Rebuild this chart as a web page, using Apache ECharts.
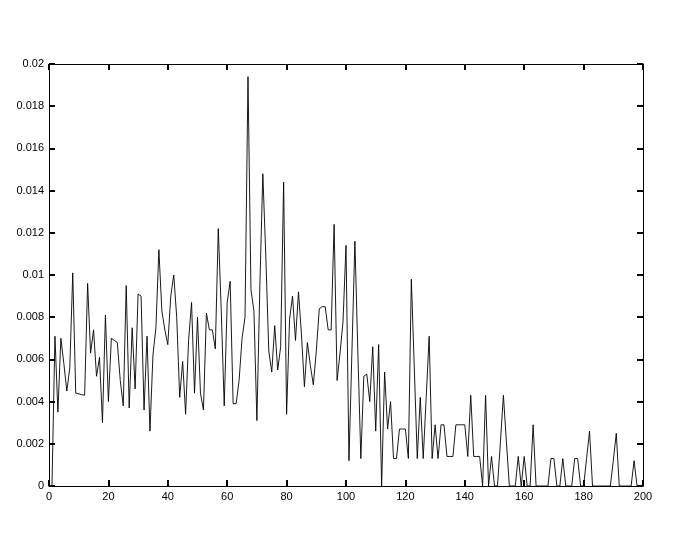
<!DOCTYPE html>
<html>
<head>
<meta charset="utf-8">
<script src="https://cdn.jsdelivr.net/npm/echarts@6/dist/echarts.min.js"></script>
<style>
  html, body { margin: 0; padding: 0; background: #fff; }
  #chart { width: 689px; height: 536px; }
</style>
</head>
<body>
<div id="chart"></div>
<script>
// sample values, index 1..200
var values = [
  0, 0.0071, 0.0035, 0.0070, 0.0058, 0.0045, 0.0056, 0.0101, 0.0044, 0.00437,
  0.00433, 0.0043, 0.0096, 0.0063, 0.0074, 0.0052, 0.0061, 0.0030, 0.0081, 0.0040,
  0.0070, 0.0069, 0.0068, 0.0050, 0.0038, 0.0095, 0.0037, 0.0075, 0.0046, 0.0091,
  0.0090, 0.0036, 0.0071, 0.0026, 0.0062, 0.0075, 0.0112, 0.0083, 0.0074, 0.0067,
  0.0090, 0.0100, 0.0080, 0.0042, 0.0059, 0.0034, 0.0069, 0.0087, 0.0044, 0.0080,
  0.0044, 0.0036, 0.0082, 0.0074, 0.0074, 0.0065, 0.0122, 0.0083, 0.0038, 0.0087,
  0.0097, 0.0039, 0.0039, 0.0050, 0.0070, 0.0080, 0.0194, 0.0093, 0.0083, 0.0031,
  0.0095, 0.0148, 0.0109, 0.0064, 0.0054, 0.0076, 0.0055, 0.0066, 0.0144, 0.0034,
  0.0079, 0.0090, 0.0069, 0.0092, 0.0072, 0.0047, 0.0068, 0.0057, 0.0048, 0.0064,
  0.0084, 0.0085, 0.0085, 0.0074, 0.0074, 0.0124, 0.0050, 0.0063, 0.0078, 0.0114,
  0.0012, 0.0064, 0.0116, 0.0063, 0.0013, 0.0052, 0.0053, 0.0040, 0.0066, 0.0026,
  0.0067, 0, 0.0054, 0.0027, 0.0040, 0.0013, 0.0013, 0.0027, 0.0027, 0.0027,
  0.0013, 0.0098, 0.0056, 0.0013, 0.0042, 0.0013, 0.0042, 0.0071, 0.0013, 0.0029,
  0.0013, 0.0029, 0.0029, 0.0014, 0.0014, 0.0014, 0.0029, 0.0029, 0.0029, 0.0029,
  0.0014, 0.0043, 0.0014, 0.0014, 0.0014, 0, 0.0043, 0, 0.0014, 0,
  0, 0.0021, 0.0043, 0.0021, 0, 0, 0, 0.0014, 0, 0.0014,
  0, 0, 0.0029, 0, 0, 0, 0, 0, 0.0013, 0.0013,
  0, 0, 0.0013, 0, 0, 0, 0.0013, 0.0013, 0, 0,
  0.0013, 0.0026, 0, 0, 0, 0, 0, 0, 0, 0.0012,
  0.0025, 0, 0, 0, 0, 0, 0.0012, 0, 0, 0
];
var xTicks = [0, 20, 40, 60, 80, 100, 120, 140, 160, 180, 200];
var yTicks = [0, 0.002, 0.004, 0.006, 0.008, 0.01, 0.012, 0.014, 0.016, 0.018, 0.02];

var points = values.map(function (v, i) { return [i + 1, v]; });

var labelStyle = { color: "#000", fontSize: 11, fontFamily: "Liberation Sans, Arial, sans-serif" };

// shared axis settings; the top / right copies only carry the mirrored ticks
function xAxis(pos, labels) {
  return {
    type: "value",
    min: xTicks[0],
    max: xTicks[xTicks.length - 1],
    interval: 20,
    position: pos,
    axisLine: { show: true, onZero: false, lineStyle: { color: "#000", width: 1 } },
    axisTick: { show: true, inside: true, length: 6, lineStyle: { color: "#000", width: 2 } },
    axisLabel: labels ? Object.assign({ margin: 5 }, labelStyle) : { show: false },
    splitLine: { show: false },
  };
}
function yAxis(pos, labels) {
  return {
    type: "value",
    min: yTicks[0],
    max: yTicks[yTicks.length - 1],
    interval: 0.002,
    position: pos,
    axisLine: { show: true, onZero: false, lineStyle: { color: "#000", width: 1 } },
    axisTick: { show: true, inside: true, length: 6, lineStyle: { color: "#000", width: 2 } },
    axisLabel: labels
      ? Object.assign({
          margin: 5,
          formatter: function (v) { return String(+v.toFixed(3)); },
        }, labelStyle)
      : { show: false },
    splitLine: { show: false },
  };
}

var chart = echarts.init(document.getElementById("chart"));
chart.setOption({
  animation: false,
  backgroundColor: "#fff",
  grid: { left: 49, right: 46, top: 64, bottom: 50 },
  xAxis: [xAxis("bottom", true), xAxis("top", false)],
  yAxis: [yAxis("left", true), yAxis("right", false)],
  series: [
    {
      type: "line",
      data: points,
      symbol: "none",
      lineStyle: { color: "#000", width: 0.9 },
    },
    {
      // invisible copy on the mirrored axes so their ticks get drawn
      type: "line",
      xAxisIndex: 1,
      yAxisIndex: 1,
      data: points,
      symbol: "none",
      silent: true,
      lineStyle: { opacity: 0 },
    },
  ],
});
</script>
</body>
</html>
